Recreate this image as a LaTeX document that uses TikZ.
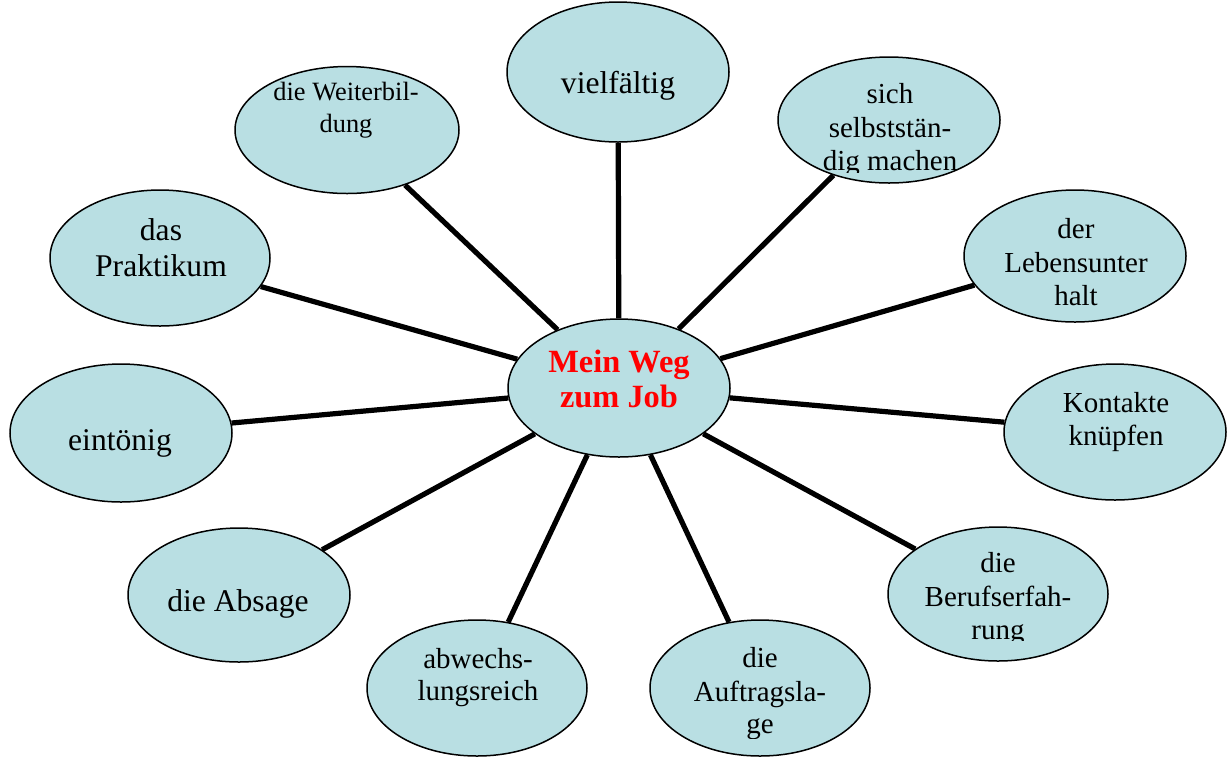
\documentclass[tikz,border=0pt]{standalone}
\usepackage{fontspec}
\setmainfont{Liberation Serif}
\usetikzlibrary{shapes.geometric}
\definecolor{bubblefill}{RGB}{185,223,227}
\definecolor{hubred}{RGB}{255,0,0}
\tikzset{
  bubble/.style={ellipse, draw=black, line width=0.75pt, fill=bubblefill,
    inner sep=0pt, minimum width=222pt*0.5, minimum height=137pt*0.5},
  spoke/.style={line width=2.6pt, draw=black},
  lbl/.style={anchor=base, inner sep=0pt, font=\fontsize{14.5}{17}\selectfont},
  biglbl/.style={anchor=base, inner sep=0pt, font=\fontsize{15.8}{19}\selectfont},
  smalllbl/.style={anchor=base, inner sep=0pt, font=\fontsize{13.2}{16}\selectfont},
  hublbl/.style={anchor=base, inner sep=0pt, text=hubred,
    font=\fontsize{16.2}{19}\selectfont\bfseries},
}
\begin{document}
\begin{tikzpicture}[x=0.5pt, y=-0.5pt]
\useasboundingbox (0,0) rectangle (1231,757);

% hub and surrounding bubbles
\node[bubble, minimum height=69pt] (hub) at (619,388) {};
\node[bubble, minimum height=70pt] (vielf) at (618,72) {};
\node[bubble, minimum width=112pt, minimum height=63.5pt] (weiter) at (347,130) {};
\node[bubble, minimum height=63pt] (selbst) at (889,120) {};
\node[bubble, minimum height=66pt] (leben) at (1075,256) {};
\node[bubble, minimum height=68pt] (kontakt) at (1115,432) {};
\node[bubble, minimum width=110pt, minimum height=67pt] (beruf) at (998,594) {};
\node[bubble, minimum width=110pt, minimum height=68pt] (auftrag) at (760,688) {};
\node[bubble, minimum width=110pt, minimum height=68pt] (abw) at (477,688) {};
\node[bubble, minimum height=67pt] (absage) at (239,595) {};
\node[bubble, minimum height=69pt] (eintoenig) at (121,433) {};
\node[bubble, minimum width=110pt, minimum height=68pt] (prakt) at (160,258) {};

% spokes from the hub to every bubble
\foreach \b in {vielf,weiter,selbst,leben,kontakt,beruf,auftrag,abw,absage,eintoenig,prakt}
  \draw[spoke] (hub) -- (\b);

% labels
\node[hublbl] (hubA) at (619,372) {Mein Weg};
\node[hublbl] (hubB) at (619,407) {zum Job};

\node[biglbl] (vielfA) at (618,93) {vielfältig};

\node[smalllbl] (weiterA) at (346,100) {die Weiterbil-};
\node[smalllbl] (weiterB) at (346,132) {dung};

\begin{scope}
  \clip (770,40) rectangle (1010,172);
  \node[lbl] (selbstA) at (890,103) {sich};
  \node[lbl] (selbstB) at (890,137) {selbststän-};
  \node[lbl] (selbstC) at (890,170) {dig machen};
\end{scope}

\node[lbl] (lebenA) at (1076,238) {der};
\node[lbl] (lebenB) at (1076,272) {Lebensunter};
\node[lbl] (lebenC) at (1076,305) {halt};

\node[lbl] (kontaktA) at (1116,412) {Kontakte};
\node[lbl] (kontaktB) at (1116,445) {knüpfen};

\begin{scope}
  \clip (880,520) rectangle (1120,640);
  \node[lbl] (berufA) at (998,572) {die};
  \node[lbl] (berufB) at (998,606) {Berufserfah-};
  \node[lbl] (berufC) at (998,639) {rung};
\end{scope}

\begin{scope}
  \clip (640,610) rectangle (880,738);
  \node[lbl] (auftragA) at (760,667) {die};
  \node[lbl] (auftragB) at (760,701) {Auftragsla-};
  \node[lbl] (auftragC) at (760,733) {ge};
\end{scope}

\node[lbl] (abwA) at (478,668) {abwechs-};
\node[lbl] (abwB) at (478,700) {lungsreich};

\node[biglbl] (absageA) at (238,611) {die Absage};

\node[biglbl] (eintoenigA) at (120,450) {eintönig};

\node[biglbl] (praktA) at (161,240) {das};
\node[biglbl] (praktB) at (161,276) {Praktikum};
\end{tikzpicture}
\end{document}
